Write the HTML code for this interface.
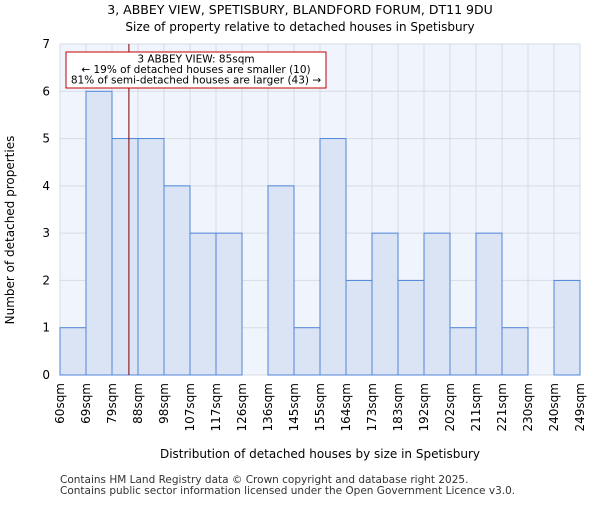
<!DOCTYPE html>
<html><head><meta charset="utf-8"><style>
body{margin:0;background:#fff;font-family:"Liberation Sans","DejaVu Sans",sans-serif}
</style></head><body>
<svg id="c" width="600" height="500" xmlns="http://www.w3.org/2000/svg" font-family="DejaVu Sans, Liberation Sans, sans-serif">
<text x="300" y="14" text-anchor="middle" font-size="12.5">3, ABBEY VIEW, SPETISBURY, BLANDFORD FORUM, DT11 9DU</text>
<text x="300" y="31" text-anchor="middle" font-size="12">Size of property relative to detached houses in Spetisbury</text>
<rect x="60" y="44" width="520" height="331" fill="#f0f4fc"/>
<g id="grid"></g><g id="bars"></g><g id="axes"></g>
<text transform="translate(14,230) rotate(-90)" text-anchor="middle" font-size="12">Number of detached properties</text>
<text x="320" y="458" text-anchor="middle" font-size="12">Distribution of detached houses by size in Spetisbury</text>
<text x="60" y="483" font-size="10.5" fill="#333">Contains HM Land Registry data © Crown copyright and database right 2025.</text>
<text x="60" y="494" font-size="10.5" fill="#333">Contains public sector information licensed under the Open Government Licence v3.0.</text>
</svg>
<script>
const tickLabels=["60sqm","69sqm","79sqm","88sqm","98sqm","107sqm","117sqm","126sqm","136sqm","145sqm","155sqm","164sqm","173sqm","183sqm","192sqm","202sqm","211sqm","221sqm","230sqm","240sqm","249sqm"];
const counts=[1,6,5,5,4,3,3,0,4,1,5,2,3,2,3,1,3,1,0,2];
const yTicks=[0,1,2,3,4,5,6,7];
const markerPos=2.65;
const NS="http://www.w3.org/2000/svg";
const X0=60,X1=580,Y0=375,Y1=44,YMAX=7;
const xs=i=>X0+i*(X1-X0)/counts.length;
const ys=v=>Y0-v*(Y0-Y1)/YMAX;
function mk(t,a,p){const e=document.createElementNS(NS,t);for(const k in a)e.setAttribute(k,a[k]);p.appendChild(e);return e;}
const g=document.getElementById('grid'),b=document.getElementById('bars'),ax=document.getElementById('axes');
tickLabels.forEach((l,i)=>{const ln=mk('line',{x1:xs(i),x2:xs(i),y1:Y1,y2:Y0,stroke:'#d6dbe4','stroke-width':1},g);


const t=mk('text',{transform:`translate(${xs(i)+4},${Y0+8}) rotate(-90)`,'text-anchor':'end','font-size':12},ax);t.textContent=l;

});
yTicks.forEach(v=>{const ln=mk('line',{x1:X0,x2:X1,y1:ys(v),y2:ys(v),stroke:'#d6dbe4','stroke-width':1},g);


const t=mk('text',{x:X0-10,y:ys(v)+4,'text-anchor':'end','font-size':12},ax);t.textContent=v;

});
counts.forEach((c,i)=>{if(c<=0)return;const r=mk('rect',{x:xs(i),y:ys(c),width:xs(i+1)-xs(i),height:Y0-ys(c),fill:'#dae4f4',stroke:'#4f86d8','stroke-width':1},b);

});
const ml=mk('line',{x1:xs(markerPos),x2:xs(markerPos),y1:Y1,y2:Y0,stroke:'#7a0000','stroke-width':1},ax);


const box=mk('rect',{x:66,y:52,width:260,height:36,fill:'#fff',stroke:'#c00000','stroke-width':1},ax);


["3 ABBEY VIEW: 85sqm","← 19% of detached houses are smaller (10)","81% of semi-detached houses are larger (43) →"].forEach((s,i)=>{const t=mk('text',{x:196,y:62.5+i*10.5,'text-anchor':'middle','font-size':10.5},ax);t.textContent=s;

});
</script>
</body></html>
